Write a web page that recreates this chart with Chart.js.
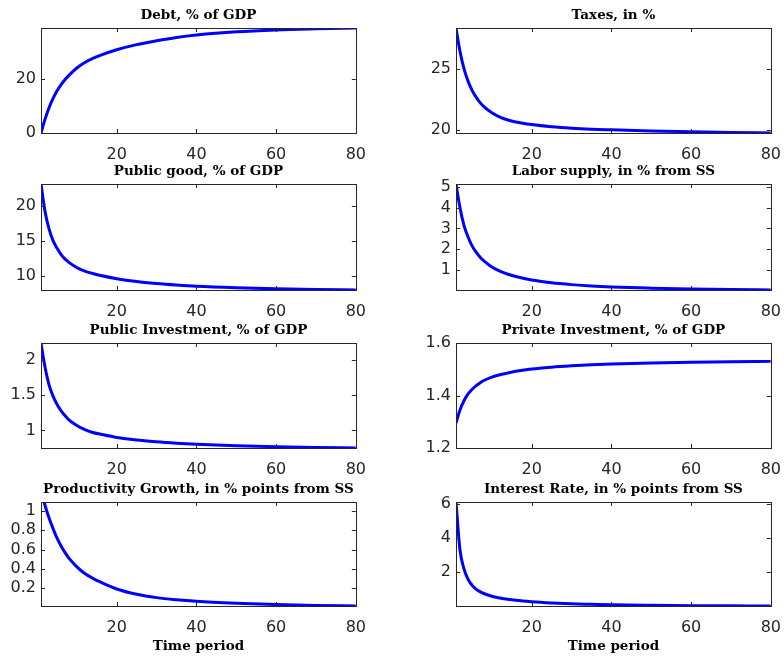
<!DOCTYPE html>
<html>
<head>
<meta charset="utf-8">
<script src="https://cdn.jsdelivr.net/npm/chart.js@4"></script>
<style>
  html, body { margin: 0; padding: 0; background: #fff; overflow: hidden; }
  .panel { position: absolute; }
</style>
</head>
<body>
<script>
const periods = [1, 2, 3, 4, 5, 6, 7, 8, 10, 12, 14, 16, 20, 25, 30, 35, 40, 50, 60, 70, 80];

// Series values
const debt = [0, 5.0, 9.2, 12.6, 15.4, 17.7, 19.6, 21.2, 23.9, 25.9, 27.4, 28.6, 30.6, 32.5, 33.9, 35.1, 36.0, 37.2, 37.9, 38.3, 38.6];
const taxes = [28.3, 26.4, 25.0, 24.0, 23.25, 22.7, 22.25, 21.9, 21.4, 21.05, 20.82, 20.66, 20.45, 20.27, 20.15, 20.07, 20.02, 19.93, 19.86, 19.8, 19.76];
const publicGood = [23.2, 19.3, 16.8, 15.1, 14.0, 13.1, 12.45, 11.95, 11.2, 10.7, 10.35, 10.05, 9.6, 9.2, 8.92, 8.7, 8.52, 8.3, 8.15, 8.05, 7.98];
const laborSupply = [5.15, 4.0, 3.15, 2.6, 2.17, 1.86, 1.62, 1.43, 1.13, 0.93, 0.78, 0.67, 0.5, 0.37, 0.28, 0.21, 0.165, 0.11, 0.07, 0.04, 0.02];
const publicInv = [2.24, 1.9, 1.65, 1.49, 1.37, 1.28, 1.21, 1.15, 1.07, 1.01, 0.97, 0.945, 0.9, 0.862, 0.837, 0.818, 0.803, 0.783, 0.768, 0.757, 0.75];
const privateInv = [1.295, 1.345, 1.38, 1.405, 1.423, 1.437, 1.448, 1.457, 1.47, 1.479, 1.486, 1.492, 1.501, 1.508, 1.513, 1.517, 1.52, 1.524, 1.527, 1.529, 1.53];
const productivity = [1.21, 1.06, 0.93, 0.82, 0.72, 0.64, 0.57, 0.51, 0.42, 0.35, 0.3, 0.26, 0.19, 0.135, 0.1, 0.078, 0.062, 0.042, 0.028, 0.018, 0.013];
const interestRate = [6.1, 3.3, 2.2, 1.6, 1.25, 1.02, 0.87, 0.76, 0.6, 0.5, 0.42, 0.36, 0.28, 0.21, 0.16, 0.13, 0.1, 0.07, 0.05, 0.04, 0.03];

// Tick labels
const xTicks = [20, 40, 60, 80];
const debtTicks = [0, 20];
const taxTicks = [20, 25];
const publicGoodTicks = [10, 15, 20];
const laborTicks = [1, 2, 3, 4, 5];
const publicInvTicks = [1, 1.5, 2];
const privateInvTicks = [1.2, 1.4, 1.6];
const productivityTicks = [0.2, 0.4, 0.6, 0.8, 1];
const rateTicks = [2, 4, 6];

// y limits (tight, like the original)
const debtRange = [0, 38.6];
const taxRange = [19.76, 28.3];
const publicGoodRange = [7.98, 23.2];
const laborRange = [0.02, 5.15];
const publicInvRange = [0.75, 2.24];
const privateInvRange = [1.2, 1.6];
const productivityRange = [0.013, 1.094];
const rateRange = [0.03, 6.1];

const panels = [
  { title: 'Debt, % of GDP', values: debt, ticks: debtTicks, range: debtRange, col: 0, row: 0 },
  { title: 'Taxes, in %', values: taxes, ticks: taxTicks, range: taxRange, col: 1, row: 0 },
  { title: 'Public good, % of GDP', values: publicGood, ticks: publicGoodTicks, range: publicGoodRange, col: 0, row: 1 },
  { title: 'Labor supply, in % from SS', values: laborSupply, ticks: laborTicks, range: laborRange, col: 1, row: 1 },
  { title: 'Public Investment, % of GDP', values: publicInv, ticks: publicInvTicks, range: publicInvRange, col: 0, row: 2 },
  { title: 'Private Investment, % of GDP', values: privateInv, ticks: privateInvTicks, range: privateInvRange, col: 1, row: 2 },
  { title: 'Productivity Growth, in % points from SS', values: productivity, ticks: productivityTicks, range: productivityRange, col: 0, row: 3 },
  { title: 'Interest Rate, in % points from SS', values: interestRate, ticks: rateTicks, range: rateRange, col: 1, row: 3 }
];

// axes box positions in the page
const colLeft = [41, 456];
const colRight = [358, 773];
const rowTop = [28, 184, 343, 502];
const rowBottom = [133, 290, 448, 606];

const AXIS = '#262626';
const TITLE_PAD = 27;   // title block above the axes
const Y_WIDTH = 41;
const RIGHT_PAD = 12;
const RIGHT_EXTRA = 8;  // room chart.js keeps for the last x label

// draws the MATLAB-like box and inward ticks on all four sides
const boxPlugin = {
  id: 'box',
  afterDraw(chart) {
    const { ctx, chartArea: a, scales } = chart;
    const len = 4;
    ctx.save();
    ctx.strokeStyle = AXIS;
    ctx.lineWidth = 1;
    ctx.strokeRect(Math.round(a.left) + 0.5, Math.round(a.top) + 0.5,
      Math.round(a.right - a.left), Math.round(a.bottom - a.top));
    ctx.beginPath();
    scales.x.ticks.forEach(t => {
      const px = Math.round(scales.x.getPixelForValue(t.value)) + 0.5;
      ctx.moveTo(px, a.bottom); ctx.lineTo(px, a.bottom - len);
      ctx.moveTo(px, a.top); ctx.lineTo(px, a.top + len);
    });
    scales.y.ticks.forEach(t => {
      const py = Math.round(scales.y.getPixelForValue(t.value)) + 0.5;
      ctx.moveTo(a.left, py); ctx.lineTo(a.left + len, py);
      ctx.moveTo(a.right, py); ctx.lineTo(a.right - len, py);
    });
    ctx.stroke();
    ctx.restore();
  }
};

panels.forEach(p => {
  const L = colLeft[p.col], R = colRight[p.col];
  const T = rowTop[p.row], B = rowBottom[p.row];
  const lastRow = p.row === 3;
  const xHeight = lastRow ? 54 : 30;

  const div = document.createElement('div');
  div.className = 'panel';
  const left = L - Y_WIDTH;
  const top = T - TITLE_PAD;
  const width = R - left + RIGHT_PAD + RIGHT_EXTRA;
  const height = (B - top) + xHeight;
  div.style.left = left + 'px';
  div.style.top = top + 'px';
  const canvas = document.createElement('canvas');
  canvas.width = width;
  canvas.height = height;
  div.appendChild(canvas);
  document.body.appendChild(div);

  new Chart(canvas.getContext('2d'), {
    type: 'line',
    data: {
      datasets: [{
        data: periods.map((t, i) => ({ x: t, y: p.values[i] })),
        borderColor: '#0000ff',
        borderWidth: 3,
        pointRadius: 0,
        cubicInterpolationMode: 'monotone',
        fill: false
      }]
    },
    options: {
      responsive: false,
      animation: false,
      devicePixelRatio: 1,
      layout: { padding: { top: 2, right: RIGHT_PAD, left: 0, bottom: 0 } },
      plugins: {
        legend: { display: false },
        tooltip: { enabled: false },
        title: {
          display: true,
          text: p.title,
          fullSize: false,
          color: '#000',
          font: { family: 'DejaVu Serif', weight: 'bold', size: 13.5, lineHeight: '16px' },
          padding: { top: 4, bottom: 5 }
        }
      },
      scales: {
        x: {
          type: 'linear',
          min: 1,
          max: 80,
          grid: { display: false, drawTicks: false },
          border: { display: false },
          ticks: {
            color: AXIS,
            font: { family: 'DejaVu Sans', size: 16 },
            padding: 12,
            maxRotation: 0,
            autoSkip: false,
            callback: v => String(v)
          },
          title: {
            display: lastRow,
            text: 'Time period',
            color: '#000',
            font: { family: 'DejaVu Serif', weight: 'bold', size: 13.5, lineHeight: '16px' },
            padding: { top: 0, bottom: 6 }
          },
          afterBuildTicks: s => { s.ticks = xTicks.map(v => ({ value: v })); },
          afterFit: s => { s.height = xHeight; }
        },
        y: {
          type: 'linear',
          min: p.range[0],
          max: p.range[1],
          grid: { display: false, drawTicks: false },
          border: { display: false },
          ticks: {
            color: AXIS,
            font: { family: 'DejaVu Sans', size: 16 },
            padding: 5,
            autoSkip: false,
            callback: v => String(v)
          },
          afterBuildTicks: s => { s.ticks = p.ticks.map(v => ({ value: v })); },
          afterFit: s => { s.width = Y_WIDTH; }
        }
      }
    },
    plugins: [boxPlugin]
  });
});
</script>
</body>
</html>
